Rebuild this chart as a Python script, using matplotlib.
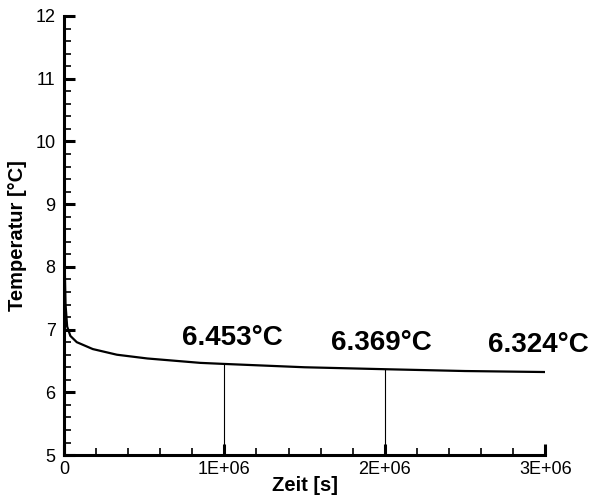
# Temperatur over Zeit

import matplotlib.pyplot as plt
from matplotlib.ticker import MultipleLocator

plt.rcParams['font.family'] = ['Liberation Sans', 'DejaVu Sans']

zeit = [0, 2000, 5000, 10000, 20000, 40000, 80000, 180000, 330000,
        520000, 850000, 1.0e6, 1.5e6, 2.0e6, 2.5e6, 3.0e6]
temp = [12.0, 9.5, 8.0, 7.4, 7.05, 6.9, 6.8, 6.69, 6.6,
        6.54, 6.47, 6.453, 6.40, 6.369, 6.34, 6.324]

mark_x = [1.0e6, 2.0e6, 3.0e6]
mark_t = [6.453, 6.369, 6.324]
mark_labels = ['6.453\u00b0C', '6.369\u00b0C', '6.324\u00b0C']
label_pos = [(1.05e6, 6.87), (1.98e6, 6.79), (2.96e6, 6.75)]

xtick_vals = [0, 1e6, 2e6, 3e6]
xtick_labels = ['0', '1E+06', '2E+06', '3E+06']


def main():
    fig = plt.figure(figsize=(5.92, 4.99), dpi=100)
    ax = fig.add_axes([0.108, 0.088, 0.813, 0.880])

    ax.plot(zeit, temp, color='black', lw=1.6)
    # vertical markers at 1E6 and 2E6
    ax.vlines(mark_x[:2], 5, mark_t[:2], color='black', lw=0.8)

    for txt, (px, py) in zip(mark_labels, label_pos):
        ax.text(px, py, txt, ha='center', va='center', fontsize=20,
                fontweight='bold')

    ax.set_xlim(0, 3e6)
    ax.set_ylim(5, 12)
    ax.set_xticks(xtick_vals)
    ax.set_xticklabels(xtick_labels)
    ax.xaxis.set_minor_locator(MultipleLocator(2e5))
    ax.yaxis.set_major_locator(MultipleLocator(1))
    ax.yaxis.set_minor_locator(MultipleLocator(0.2))

    for s in ['top', 'right']:
        ax.spines[s].set_visible(False)
    for s in ['left', 'bottom']:
        ax.spines[s].set_linewidth(2.2)

    ax.tick_params(which='major', direction='in', length=8, width=2.2,
                   labelsize=13)
    ax.tick_params(which='minor', direction='in', length=5, width=1.2)
    ax.tick_params(axis='x', which='major', pad=4)
    ax.tick_params(axis='y', which='major', pad=6)

    ax.set_xlabel('Zeit [s]', fontsize=14.5, fontweight='bold', labelpad=-1)
    ax.set_ylabel('Temperatur [\u00b0C]', fontsize=14.5, fontweight='bold',
                  labelpad=6)

    fig.savefig('out.png')


if __name__ == "__main__":
    main()
